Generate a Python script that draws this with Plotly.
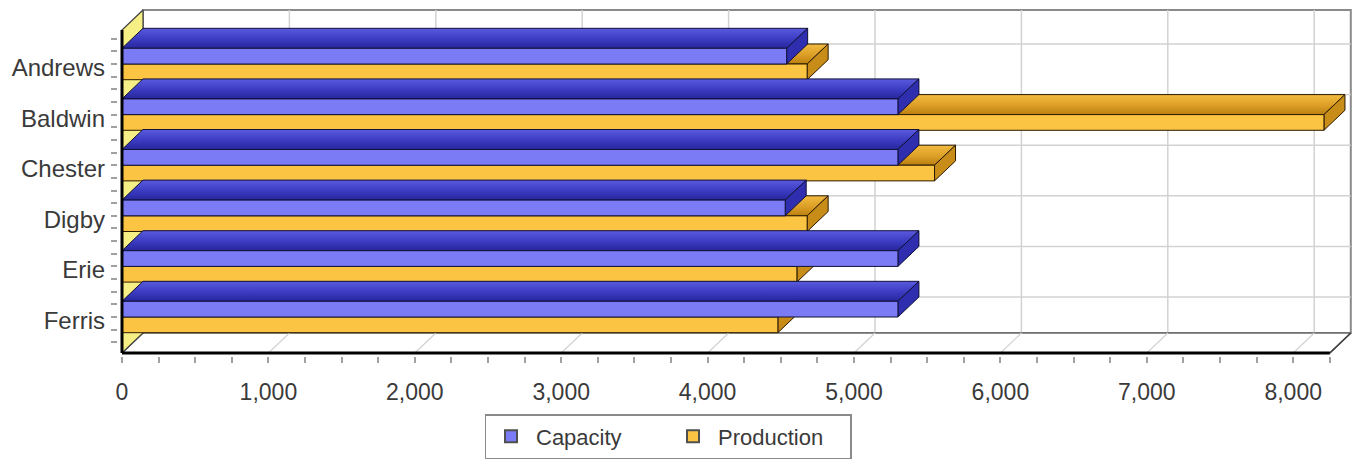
import plotly.graph_objects as go

# ---------------- data ----------------
companies = ["Andrews", "Baldwin", "Chester", "Digby", "Erie", "Ferris"]
capacity = [4540, 5300, 5300, 4530, 5300, 5300]
production = [4680, 8210, 5550, 4680, 4610, 4480]
x_tick_values = [0, 1000, 2000, 3000, 4000, 5000, 6000, 7000, 8000]
x_axis_max = 8250
series_names = ["Capacity", "Production"]

# ---------------- styling / geometry ----------------
FONT = "Liberation Sans, Arial, sans-serif"
W, H = 1357, 459
PL, PR, PT, PB = 118, 1353, 8, 356          # plot area in pixels
FRONT_LEFT, FRONT_BOTTOM, FRONT_TOP = 122, 353, 30
KX = 0.1464                                   # px per value unit
KY = 50.6                                     # px per category
DX = 21 / KX                                  # depth offset in value units
DY = 20 / KY                                  # depth offset in category units
BAR_H = 0.31

n = len(companies)
pos = [n - 1 - i for i in range(n)]           # Andrews on top
F0 = -36 / KY                                 # front floor level
FT = F0 + (FRONT_BOTTOM - FRONT_TOP) / KY     # front top level
XMIN = -(FRONT_LEFT - PL) / KX
XMAX = XMIN + (PR - PL) / KX
YMIN = F0 - (PB - FRONT_BOTTOM) / KY
YMAX = YMIN + (PB - PT) / KY

COL = {
    "Capacity": dict(front="#7b7bf6", top=[[0, "#26269a"], [0.45, "#3b3bc2"], [1, "#5a5ade"]],
                     side="#2e2eae", line="#101038", legend="#7b7bf6"),
    "Production": dict(front="#fcc443", top=[[0, "#b97f10"], [0.45, "#dc9e26"], [1, "#f2bc40"]],
                       side="#c88c18", line="#2a1a00", legend="#fcc443"),
}

fig = go.Figure()

# legend entries
for name in series_names:
    fig.add_trace(go.Bar(x=[None], y=[None], orientation="h", name=name,
                         marker=dict(color=COL[name]["legend"],
                                     line=dict(color="#505050", width=2))))


def poly(xs, ys, fill, line, width=1.0):
    kw = {}
    if isinstance(fill, list):
        kw["fillgradient"] = dict(type="vertical", colorscale=fill)
    else:
        kw["fillcolor"] = fill
    fig.add_trace(go.Scatter(x=list(xs) + [xs[0]], y=list(ys) + [ys[0]],
                             mode="lines", fill="toself",
                             line=dict(color=line, width=width),
                             hoverinfo="skip", showlegend=False, **kw))


def lines(segs, color, width):
    xs, ys = [], []
    for (x0, y0, x1, y1) in segs:
        xs += [x0, x1, None]
        ys += [y0, y1, None]
    fig.add_trace(go.Scatter(x=xs, y=ys, mode="lines",
                             line=dict(color=color, width=width),
                             hoverinfo="skip", showlegend=False))


# back wall
poly([DX, x_axis_max + DX, x_axis_max + DX, DX],
     [F0 + DY, F0 + DY, FT + DY, FT + DY], "#ffffff", "#8a8a8a", 2)
# back-wall grid
lines([(v + DX, F0 + DY, v + DX, FT + DY) for v in x_tick_values[1:]], "#d2d2d2", 1.5)
lines([(DX, p + DY, x_axis_max + DX, p + DY) for p in pos], "#d2d2d2", 1.5)
# floor
poly([0, x_axis_max, x_axis_max + DX, DX], [F0, F0, F0 + DY, F0 + DY],
     "#ffffff", "#6a6a6a", 1.5)
lines([(v, F0, v + DX, F0 + DY) for v in x_tick_values[1:]], "#d2d2d2", 1.2)
# left wall
poly([0, 0, DX, DX], [F0, FT, FT + DY, F0 + DY], "#f6ef86", "#404040", 1.2)


def bar3d(v, y0, y1, c):
    poly([0, v, v + DX, DX], [y1, y1, y1 + DY, y1 + DY], c["top"], c["line"])
    poly([v, v + DX, v + DX, v], [y0, y0 + DY, y1 + DY, y1], c["side"], c["line"])
    poly([0, v, v, 0], [y0, y0, y1, y1], c["front"], c["line"])


for i in range(n):
    p = pos[i]
    bar3d(production[i], p - BAR_H, p, COL["Production"])
    bar3d(capacity[i], p, p + BAR_H, COL["Capacity"])

# front axis lines
lines([(x_axis_max, F0, x_axis_max + DX, F0 + DY)], "#404040", 1.5)
lines([(0, F0, x_axis_max, F0)], "#000000", 3)
lines([(0, F0, 0, FT)], "#000000", 3)

minor_y = [-0.5 + 0.25 * k for k in range(int(n / 0.25) + 1)]
minor_x = [250 * k for k in range(int(x_axis_max / 250) + 1)]

fig.update_layout(
    width=W, height=H,
    margin=dict(l=PL, r=W - PR, t=PT, b=H - PB, autoexpand=False),
    paper_bgcolor="white", plot_bgcolor="white",
    font=dict(family=FONT, size=24, color="#3a3a3a"),
    showlegend=True,
    legend=dict(orientation="h", x=(668 - PL) / (PR - PL), xanchor="center",
                y=-(414 - PB) / (PB - PT), yanchor="top",
                bordercolor="#8a8a8a", borderwidth=1.5, bgcolor="white",
                font=dict(size=22, color="#3a3a3a"), traceorder="normal",
                itemwidth=40, entrywidth=127, entrywidthmode="pixels"),
    xaxis=dict(range=[XMIN, XMAX], showgrid=False, zeroline=False, showline=False,
               tickmode="array", tickvals=x_tick_values,
               ticktext=[f"{v:,}" for v in x_tick_values],
               ticks="outside", ticklen=6, tickcolor="#a0a0a0", tickwidth=1.5,
               ticklabelstandoff=9, tickfont=dict(size=23),
               minor=dict(tickmode="array", tickvals=minor_x, ticks="outside",
                          ticklen=6, tickcolor="#a0a0a0", tickwidth=1.5),
               fixedrange=True, automargin=False),
    yaxis=dict(range=[YMIN, YMAX], showgrid=False, zeroline=False, showline=False,
               tickmode="array", tickvals=[p - 0.07 for p in pos], ticktext=companies,
               ticks="", ticklabelstandoff=12, tickfont=dict(size=24),
               minor=dict(tickmode="array", tickvals=minor_y, ticks="outside",
                          ticklen=6, tickcolor="#a0a0a0", tickwidth=1.5),
               fixedrange=True, automargin=False),
)

fig.write_html("out.html")
